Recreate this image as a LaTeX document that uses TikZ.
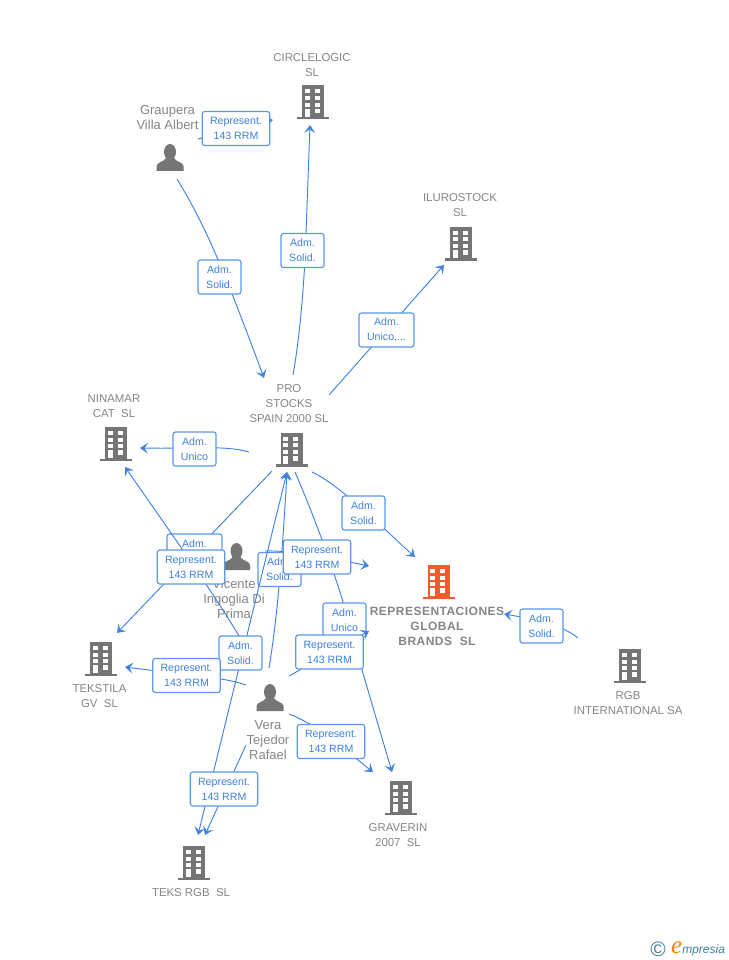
\documentclass[tikz,border=0pt]{standalone}
\usepackage{fontspec}
\usepackage{xcolor}
\setmainfont{Liberation Sans}
\newfontfamily\logofont{Liberation Serif}
\usetikzlibrary{arrows.meta}

\definecolor{linkblue}{HTML}{3F84E2}
\definecolor{boxblue}{HTML}{5A97E8}
\definecolor{textblue}{HTML}{3D80DC}
\definecolor{icongray}{HTML}{757575}
\definecolor{namegray}{HTML}{858585}
\definecolor{fireorange}{HTML}{F65A2C}
\definecolor{logoblue}{HTML}{3F7F9C}

\tikzset{
  link/.style={line width=0.95pt, color=linkblue},
  tag/.style={draw=boxblue, line width=1.15pt, fill=white, rounded corners=2.5pt, text=textblue,
    font=\fontsize{10.6}{15}\selectfont, align=center, inner sep=0pt, minimum height=34pt},
  represent/.style={tag, minimum width=67.5pt},
  adm/.style={tag, minimum width=43pt},
  firm/.style={text=namegray, font=\fontsize{11.4}{15}\selectfont, align=center, inner sep=0pt},
  human/.style={text=namegray, font=\fontsize{13}{15}\selectfont, align=center, inner sep=0pt},
  pics/building/.style={code={
    \fill[#1] (-16,-2.5) rectangle (16,0);
    \fill[#1] (-11,-34) rectangle (11,-2);
    \foreach \wy in {-30,-23.3,-16.7} {
      \fill[white] (-8.2,\wy) rectangle (-3.2,\wy+4);
      \fill[white] (1.8,\wy) rectangle (6.8,\wy+4);
    }
    \fill[white] (-8.2,-10.7) rectangle (-3.2,-2.7);
    \fill[white] (1.8,-10.7) rectangle (6.8,-6);
  }},
  pics/person/.style={code={
    \fill[icongray] (0,-19) ellipse (6 and 8);
    \fill[icongray] (-13.5,0) -- (-13.5,-5) .. controls (-13,-9) and (-6,-9) .. (-4,-13)
      -- (4,-13) .. controls (6,-9) and (13,-9) .. (13.5,-5) -- (13.5,0) -- cycle;
  }}
}

\begin{document}
\begin{tikzpicture}[x=1pt, y=-1pt, >={Stealth[length=8pt, width=11pt, inset=3.5pt]}]
    \useasboundingbox (0,0) rectangle (728,960);

    % Buildings and people, the pic stands on its base line
    \foreach \x/\y/\c in {313/119.5/icongray, 461/260.5/icongray, 291.5/466.5/icongray, 116/461/icongray,
        101/676/icongray, 630/683/icongray, 401/815/icongray, 194/880/icongray, 438.5/599/fireorange} {
        \pic at (\x,\y) {building=\c};
    }
    \foreach \x/\y in {170/171, 236.5/570, 270/711} {
        \pic at (\x,\y) {person};
    }

    \node[firm] (circlelogic) at (312,65.5) {CIRCLELOGIC\\SL};
    \node[human] (graupera) at (167.5,117.5) {Graupera\\Villa Albert};
    \node[firm] (ilurostock) at (460,205.5) {ILUROSTOCK\\SL};
    \node[firm] (prostocks) at (289,404) {PRO\\STOCKS\\SPAIN 2000 SL};
    \node[firm] (ninamar) at (114,406.5) {NINAMAR\\CAT\ \ SL};
    \node[human] (vicente) at (234,599) {Vicente\\Ingoglia Di\\Prima};
    \node[firm] (tekstila) at (99.5,696.5) {TEKSTILA\\GV\ \ SL};
    \node[firm, font=\fontsize{12}{15}\bfseries\selectfont\addfontfeature{LetterSpace=4}] (representaciones) at (437,626.5) {REPRESENTACIONES\\GLOBAL\\BRANDS\ \ SL};
    \node[firm] (rgb) at (628,703.5) {RGB\\INTERNATIONAL SA};
    \node[firm] (graverin) at (398,835.5) {GRAVERIN\\2007\ \ SL};
    \node[firm] (teksrgb) at (191,893) {TEKS RGB\ \ SL};
    \node[human] (vera) at (268,740) {Vera\\Tejedor\\Rafael};

    % End points of the links
    \coordinate (graupera-a) at (198,139);
    \coordinate (circlelogic-a) at (273,120);
    \coordinate (graupera-b) at (177,179);
    \coordinate (prostocks-a) at (264,378);
    \coordinate (prostocks-b) at (293,375);
    \coordinate (circlelogic-b) at (310,125);
    \coordinate (prostocks-c) at (329,395);
    \coordinate (ilurostock-a) at (444,265);
    \coordinate (prostocks-d) at (249,452);
    \coordinate (ninamar-a) at (140,448);
    \coordinate (prostocks-e) at (272,471);
    \coordinate (tekstila-a) at (117,633);
    \coordinate (prostocks-f) at (312,472);
    \coordinate (representaciones-a) at (415,557);
    \coordinate (prostocks-g) at (295,472);
    \coordinate (graverin-a) at (392,772);
    \coordinate (prostocks-h) at (287,472);
    \coordinate (teksrgb-a) at (198,835);
    \coordinate (teksrgb-b) at (205,835);
    \coordinate (ninamar-b) at (125,467);
    \coordinate (vera-a) at (250,655);
    \coordinate (vera-b) at (269,668);
    \coordinate (vera-c) at (246,745);
    \coordinate (vera-d) at (246,685);
    \coordinate (vera-e) at (289,676);
    \coordinate (vera-f) at (289,714);
    \coordinate (tekstila-b) at (125,667);
    \coordinate (vicente-a) at (265,551);
    \coordinate (representaciones-b) at (369,566);
    \coordinate (representaciones-c) at (369,631);
    \coordinate (representaciones-d) at (504,614);
    \coordinate (graverin-b) at (373,772);
    \coordinate (rgb-a) at (578,638);

    \draw[->, link] (graupera-a) .. controls (225,132) and (250,124) .. (circlelogic-a);
    \node[represent] (rep-circlelogic) at (236,128.5) {Represent.\\143 RRM};

    \draw[->, link] (graupera-b) .. controls (205,225) and (222,265) .. (prostocks-a);
    \node[adm] (adm-graupera) at (219.5,277) {Adm.\\Solid.};

    \draw[->, link] (prostocks-b) .. controls (301,330) and (305,270) .. (306,233) -- (circlelogic-b);
    \node[adm] (adm-circlelogic) at (302.5,250.5) {Adm.\\Solid.};

    \draw[->, link] (prostocks-c) -- (ilurostock-a);
    \node[tag, minimum width=55pt] (adm-ilurostock) at (386.5,330) {Adm.\\Unico,...};

    \draw[->, link] (prostocks-d) .. controls (225,445) and (195,449) .. (ninamar-a);
    \node[adm] (adm-ninamar) at (194.5,449) {Adm.\\Unico};

    \draw[->, link] (prostocks-f) .. controls (340,485) and (385,530) .. (representaciones-a);
    \node[adm] (adm-representaciones) at (363.5,513) {Adm.\\Solid.};

    \draw[->, link] (rgb-a) .. controls (565,627) and (540,620) .. (representaciones-d);
    \node[adm] (adm-rgb) at (541.5,626) {Adm.\\Solid.};

    \draw[->, link] (prostocks-e) -- (tekstila-a);
    \node[tag, minimum width=55pt] (adm-tekstila) at (194.5,551) {Adm.\\\phantom{Solid.}};
    \draw[->, link] (vera-a) .. controls (225,610) and (190,560) .. (ninamar-b);
    \node[represent] (rep-tekstila-a) at (191,567) {Represent.\\143 RRM};

    \draw[->, link] (vera-b) .. controls (277,620) and (282,560) .. (prostocks-h);
    \node[adm] (adm-vicente) at (279.5,569.5) {Adm.\\Solid.};
    \draw[->, link] (vicente-a) .. controls (290,550) and (330,558) .. (representaciones-b);
    \draw[->, link] (prostocks-g) .. controls (320,530) and (345,600) .. (362,670) -- (graverin-a);
    \node[represent] (rep-representaciones-a) at (317,557) {Represent.\\143 RRM};

    \node[adm] (adm-unico) at (344.5,620) {Adm.\\Unico};
    \draw[->, link] (vera-e) -- (representaciones-c);
    \node[represent] (rep-representaciones-b) at (329.5,652) {Represent.\\143 RRM};

    \draw[<->, link] (teksrgb-a) -- (prostocks-h);
    \draw[->, link] (vera-d) .. controls (220,676) and (170,673) .. (tekstila-b);
    \node[adm] (adm-vera) at (240.5,653) {Adm.\\Solid.};
    \node[represent] (rep-tekstila-b) at (186.5,675.5) {Represent.\\143 RRM};

    \draw[->, link] (vera-f) .. controls (320,726) and (345,750) .. (graverin-b);
    \node[represent] (rep-graverin) at (331,741.5) {Represent.\\143 RRM};

    \draw[->, link] (vera-c) -- (teksrgb-b);
    \node[represent] (rep-teksrgb) at (224,789) {Represent.\\143 RRM};

    % Footer mark
    \node[text=logoblue, font=\fontsize{21}{21}\selectfont, inner sep=0pt] (copyrightmark) at (658,949) {©};
    \node[text=logoblue, font=\itshape\fontsize{12}{15}\selectfont, inner sep=0pt, anchor=base west] (logo) at (671,953.5) {{\logofont\color{orange}\fontsize{25}{15}\selectfont e}mpresia};
\end{tikzpicture}
\end{document}
